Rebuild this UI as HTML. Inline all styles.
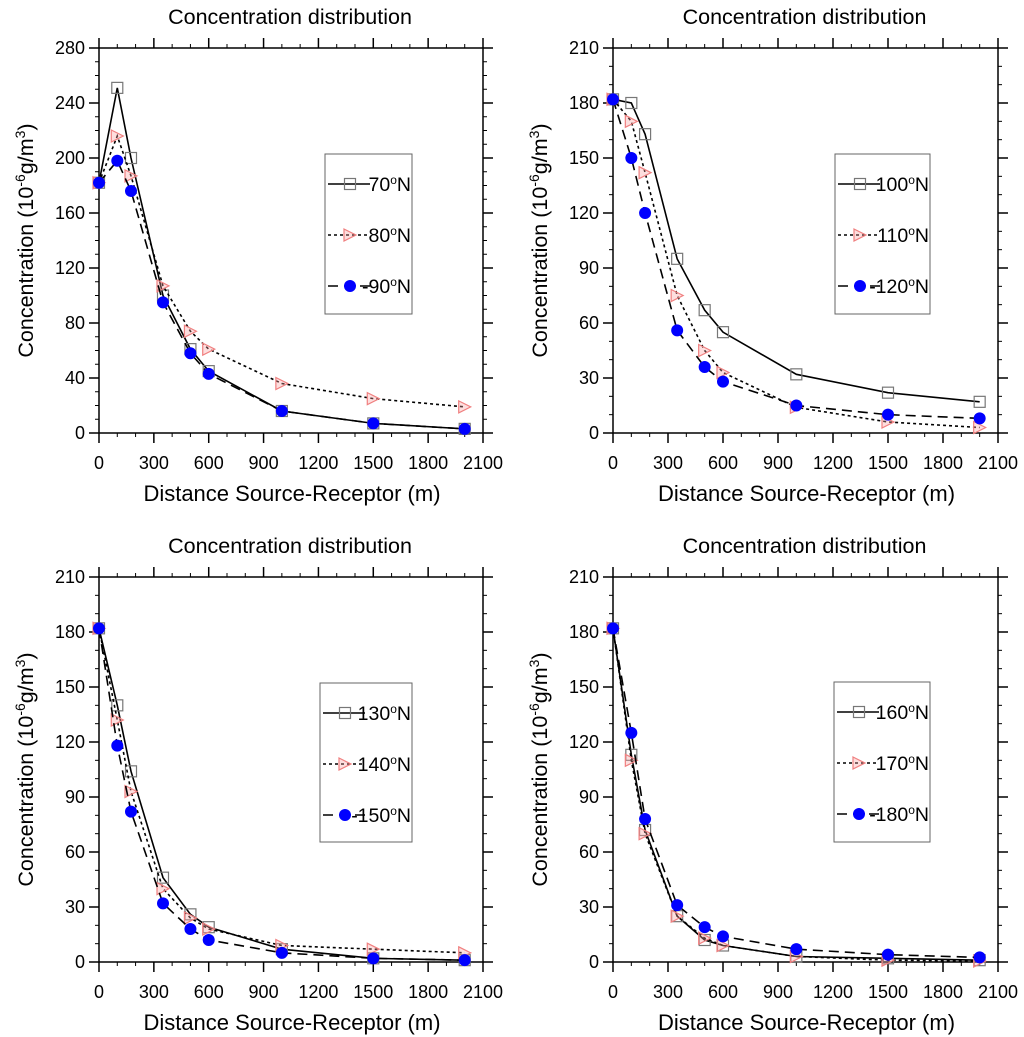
<!DOCTYPE html>
<html><head><meta charset="utf-8"><style>
html,body{margin:0;padding:0;background:#fff;}
svg{display:block;font-family:"Liberation Sans",sans-serif;}
</style></head><body>
<svg id="chart" width="1024" height="1037" viewBox="0 0 1024 1037" xmlns="http://www.w3.org/2000/svg"></svg>
<script>
const distances = [0,100,175,350,500,600,1000,1500,2000];
const xTicks = [0,300,600,900,1200,1500,1800,2100];
const yTicksA = [0,40,80,120,160,200,240,280];
const yTicksB = [0,30,60,90,120,150,180,210];
const s70 = [182,251,200,100,61,45,16,7,3];
const s80 = [182,216,187,107,74,61,36,25,19];
const s90 = [182,198,176,95,58,43,16,7,3];
const s100 = [182,180,163,95,67,55,32,22,17];
const s110 = [182,170,142,75,45,33,14,6,3];
const s120 = [182,150,120,56,36,28,15,10,8];
const s130 = [182,140,104,46,26,19,7,2,1];
const s140 = [182,132,93,40,24,18,9,7,5];
const s150 = [182,118,82,32,18,12,5,2,1];
const s160 = [182,113,72,25,12,9,3,2,1];
const s170 = [182,110,70,25,13,9,3,1,0.5];
const s180 = [182,125,78,31,19,14,7,4,2.5];
const labels1 = ["70","80","-90"];
const labels2 = ["100","110","-120"];
const labels3 = ["130","140","-150"];
const labels4 = ["160","170","-180"];

const NS="http://www.w3.org/2000/svg";
const svg=document.getElementById('chart');
function mk(tag,attrs,parent,text){const e=document.createElementNS(NS,tag);for(const k in attrs)e.setAttribute(k,attrs[k]);if(text!==undefined)e.textContent=text;(parent||svg).appendChild(e);return e;}

const panels=[
 {x0:99,x1:483,y0:433,y1:48,yt:yTicksA,ymax:280,ymin:10,series:[s70,s80,s90],labels:labels1,lg:{x:325,y:154,w:87,h:160},name:'panel-70-90'},
 {x0:613,x1:998,y0:433,y1:48,yt:yTicksB,ymax:210,ymin:10,series:[s100,s110,s120],labels:labels2,lg:{x:835,y:154,w:95,h:160},name:'panel-100-120'},
 {x0:99,x1:483,y0:962,y1:577,yt:yTicksB,ymax:210,ymin:10,series:[s130,s140,s150],labels:labels3,lg:{x:320,y:683,w:92,h:159},name:'panel-130-150'},
 {x0:613,x1:998,y0:962,y1:577,yt:yTicksB,ymax:210,ymin:10,series:[s160,s170,s180],labels:labels4,lg:{x:834,y:682,w:96,h:160},name:'panel-160-180'}
];
const styles=[{dash:'',marker:'square'},{dash:'3,3',marker:'tri'},{dash:'10,6',marker:'circle'}];

function marker(g,type,cx,cy){
 let m;
 if(type==='square') m=mk('rect',{x:cx-5.5,y:cy-5.5,width:11,height:11,fill:'none',stroke:'#777','stroke-width':1.2},g);
 else if(type==='tri') m=mk('polygon',{points:`${cx-6},${cy-6} ${cx+6},${cy} ${cx-6},${cy+6}`,fill:'rgba(250,160,160,0.35)',stroke:'#f08080','stroke-width':1.2},g);
 else m=mk('circle',{cx:cx,cy:cy,r:6,fill:'#0000ff'},g);
 
 
}

panels.forEach(p=>{
 const g=mk('g',{},svg);
 
 
 const X=v=>p.x0+(v/2100)*(p.x1-p.x0);
 const Y=v=>p.y0-(v/p.ymax)*(p.y0-p.y1);
 const ax=mk('g',{stroke:'#000','stroke-width':1.5},g);
 
 
 mk('rect',{x:p.x0,y:p.y1,width:p.x1-p.x0,height:p.y0-p.y1,fill:'none'},ax);
 for(let v=0;v<=2100;v+=100){const x=X(v);const major=v%300===0;const L=major?10:4;
  mk('line',{x1:x,y1:p.y0,x2:x,y2:p.y0+L,'stroke-width':major?1.5:1},ax);
  mk('line',{x1:x,y1:p.y1,x2:x,y2:p.y1-L,'stroke-width':major?1.5:1},ax);}
 const step=p.yt[1]-p.yt[0];
 for(let v=0;v<=p.ymax+0.01;v+=p.ymin){const y=Y(v);const major=Math.abs(v%step)<0.01;const L=major?10:4;
  mk('line',{x1:p.x0,y1:y,x2:p.x0-L,y2:y,'stroke-width':major?1.5:1},ax);
  mk('line',{x1:p.x1,y1:y,x2:p.x1+L,y2:y,'stroke-width':major?1.5:1},ax);}
 xTicks.forEach(v=>{const t=mk('text',{x:X(v),y:p.y0+36,'font-size':18,'text-anchor':'middle'},g,String(v));
  });
 p.yt.forEach(v=>{const t=mk('text',{x:p.x0-14,y:Y(v)+6,'font-size':18,'text-anchor':'end'},g,String(v));
  });
 const cx=(p.x0+p.x1)/2;
 const ti=mk('text',{x:cx-1,y:p.y1-24,'font-size':21.5,'text-anchor':'middle'},g,'Concentration distribution');
 
 const xl=mk('text',{x:cx+1,y:p.y0+68,'font-size':22,'text-anchor':'middle'},g,'Distance Source-Receptor (m)');
 
 const ycx=p.x0-66, ycy=(p.y0+p.y1)/2;
 const yl=mk('text',{x:ycx,y:ycy,'font-size':21.5,'text-anchor':'middle',transform:`rotate(-90 ${ycx} ${ycy})`},g);
 
 mk('tspan',{},yl,'Concentration (10');mk('tspan',{dy:-8,'font-size':14},yl,'-6');
 mk('tspan',{dy:8},yl,'g/m');mk('tspan',{dy:-8,'font-size':14},yl,'3');mk('tspan',{dy:8},yl,')');
 p.series.forEach((s,i)=>{
  const st=styles[i];
  const pts=s.map((v,j)=>`${X(distances[j])},${Y(v)}`).join(' ');
  const pl=mk('polyline',{points:pts,fill:'none',stroke:'#000','stroke-width':1.6,'stroke-dasharray':st.dash},g);
  
  s.forEach((v,j)=>marker(g,st.marker,X(distances[j]),Y(v)));
 });
 const lg=mk('g',{},g);
 
 mk('rect',{x:p.lg.x,y:p.lg.y,width:p.lg.w,height:p.lg.h,fill:'#fff',stroke:'#666','stroke-width':1},lg);
 p.labels.forEach((lab,i)=>{
  const y=p.lg.y+30+i*51;const st=styles[i];
  const e=mk('g',{},lg);
  
  mk('line',{x1:p.lg.x+3,y1:y,x2:p.lg.x+45,y2:y,stroke:'#000','stroke-width':1.6,'stroke-dasharray':st.dash},e);
  marker(e,st.marker,p.lg.x+25,y);
  const t=mk('text',{x:p.lg.x+p.lg.w-1,y:y+7,'font-size':19.5,'text-anchor':'end'},e,lab);
  mk('tspan',{dy:-7,'font-size':12},t,'o');mk('tspan',{dy:7},t,'N');
 });
});
</script>
</body></html>
